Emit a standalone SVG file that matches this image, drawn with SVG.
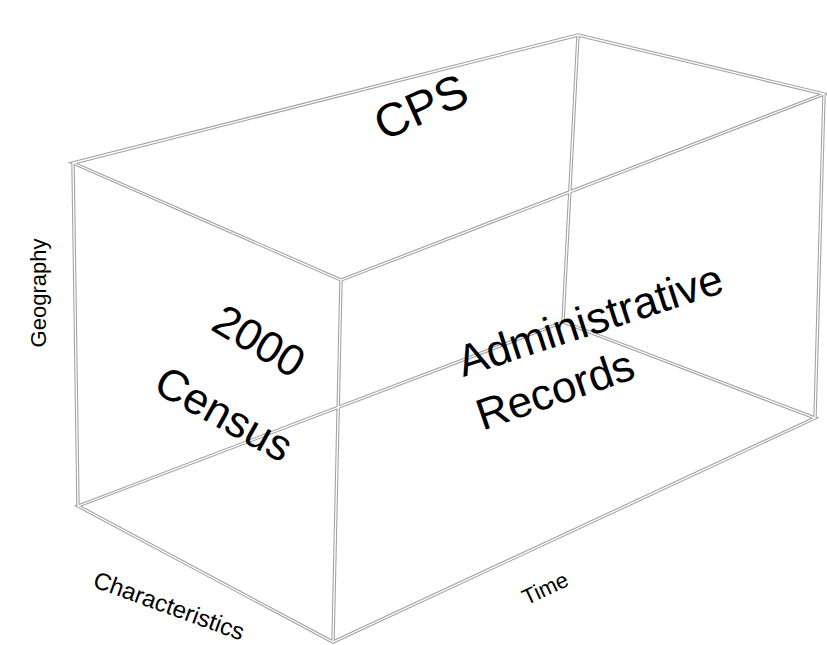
<svg xmlns="http://www.w3.org/2000/svg" xmlns:xlink="http://www.w3.org/1999/xlink" width="827" height="645" viewBox="0 0 827 645">
<style>
.outer{fill:none;stroke:#a0a0a0;stroke-width:3.4;stroke-linejoin:miter}
.inner{fill:none;stroke:#ffffff;stroke-width:1.3}
.big{font-family:"Liberation Sans",Arial,sans-serif;font-size:44px;fill:#000;text-anchor:middle}
.axis{font-family:"Liberation Sans",Arial,sans-serif;font-size:22px;fill:#000;text-anchor:middle}
</style>
<defs>
<path id="edges" d="M73,163 L578,35 L824,94 L341,280 Z M78,506 L563,322 L815,418 L333,642 Z M73,163 L78,506 M578,35 L563,322 M824,94 L815,418 M341,280 L333,642"/>
</defs>
<rect width="827" height="645" fill="#ffffff"/>
<g id="connectors">
<use xlink:href="#edges" class="outer"/>
<use xlink:href="#edges" class="inner"/>
</g>
<g id="cps"><text class="big" transform="translate(421,107) rotate(-24)" y="16" style="font-size:47px">CPS</text></g>
<g id="census"><text class="big" transform="translate(259,341) rotate(31)" y="15">2000</text><text class="big" transform="translate(224,414) rotate(29)" y="15">Census</text></g>
<g id="admin"><text class="big" transform="translate(590,320) rotate(-18)" y="15">Administrative</text><text class="big" transform="translate(555,390) rotate(-19)" y="15">Records</text></g>
<g id="geography"><text class="axis" transform="translate(46,293) rotate(-90)">Geography</text></g>
<g id="characteristics"><text class="axis" transform="translate(169,606) rotate(20)" y="8" style="font-size:24px">Characteristics</text></g>
<g id="time"><text class="axis" transform="translate(545,588) rotate(-25)" y="8">Time</text></g>
</svg>
